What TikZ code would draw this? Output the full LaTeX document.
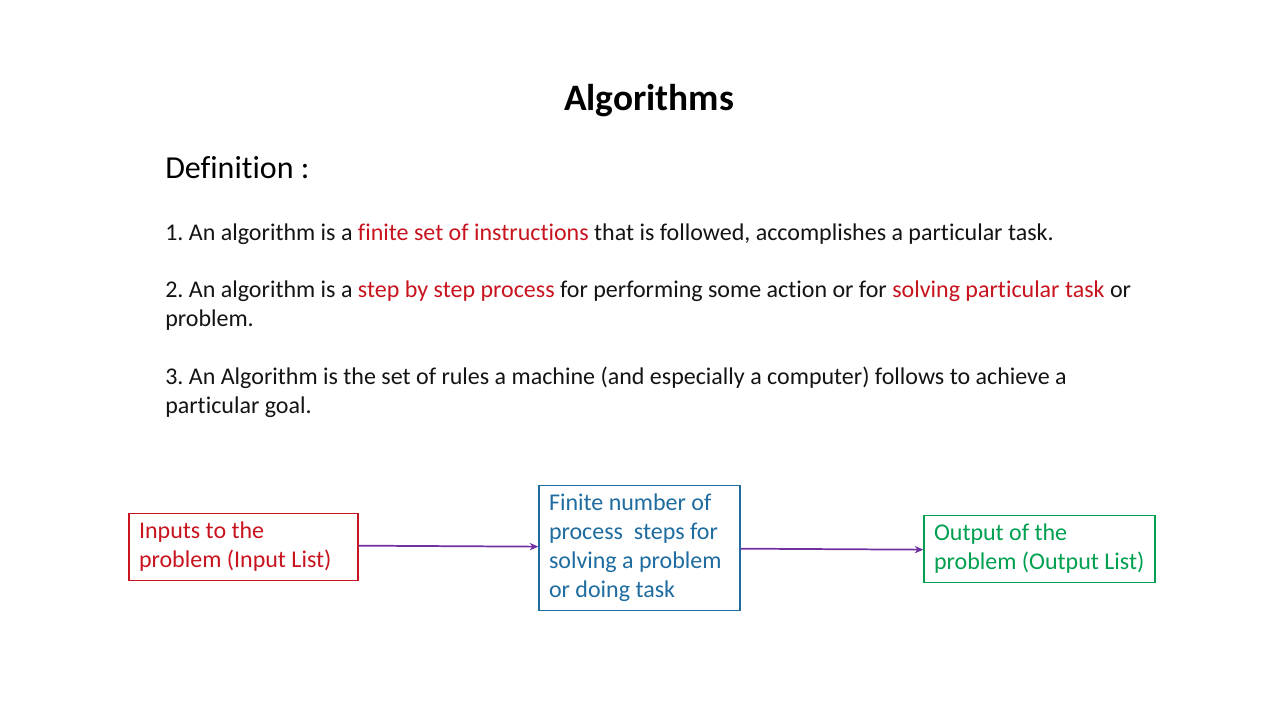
\documentclass[tikz,border=0pt]{standalone}
\usepackage{fontspec}
\setmainfont{Carlito}[Ligatures=NoCommon]
\usetikzlibrary{arrows.meta}
\definecolor{slred}{RGB}{200,20,30}
\definecolor{slblue}{RGB}{30,108,160}
\definecolor{slgreen}{RGB}{0,160,80}
\definecolor{slpurple}{RGB}{112,48,160}
\definecolor{sltext}{RGB}{20,20,20}
\tikzset{
  body/.style={anchor=base west, inner sep=0pt, text=sltext, font=\fontsize{18}{21.75}\selectfont},
  boxnode/.style={draw, line width=1pt, align=flush left, inner xsep=7.5pt, inner ysep=0pt,
     font=\fontsize{18}{21.75}\selectfont},
  flow/.style={slpurple, line width=1.3pt, -{Stealth[length=6.5pt,width=5.5pt]}}
}
\newcommand{\hl}[1]{\textcolor{slred}{#1}}
\begin{document}
\frenchspacing
\begin{tikzpicture}[x=0.75pt,y=-0.75pt]
\fill[white] (0,0) rectangle (1280,720);
\useasboundingbox (0,0) rectangle (1280,720);

\node[anchor=base, inner sep=0pt, text=black, font=\fontsize{28}{32}\selectfont\bfseries] (title) at (649,111) {Algorithms};
\node[anchor=base west, inner sep=0pt, text=black, font=\fontsize{24}{28}\selectfont] (defn) at (165,179) {Definition :};

\node[body] (l1) at (165,240) {1. An algorithm is a \hl{finite set of instructions} that is followed, accomplishes a particular task.};
\node[body] (l2) at (165,297) {2. An algorithm is a \hl{step by step process} for performing some action or for \hl{solving particular task} or};
\node[body] (l2b) at (165,326) {problem.};
\node[body] (l3) at (165,384) {3. An Algorithm is the set of rules a machine (and especially a computer) follows to achieve a};
\node[body] (l3b) at (165,413) {particular goal.};

\node[boxnode, draw=slred, text=slred, minimum width=229*0.75pt, minimum height=67*0.75pt, text width=209*0.75pt] (in) at (243.5,547) {Inputs to the\\problem (Input List)};
\node[boxnode, draw=slblue, text=slblue, minimum width=201*0.75pt, minimum height=125*0.75pt, text width=181*0.75pt] (proc) at (639.5,548) {Finite number of\\process\ \ steps for\\solving a problem\\or doing task};
\node[boxnode, draw=slgreen, text=slgreen, minimum width=231*0.75pt, minimum height=67*0.75pt, text width=211*0.75pt] (out) at (1039.5,549) {Output of the\\problem (Output List)};

\draw[flow] ([yshift=1pt]in.east) -- ([yshift=1pt]proc.west);
\draw[flow] ([yshift=-0.5pt]proc.east) -- ([yshift=-0.5pt]out.west);
\end{tikzpicture}
\end{document}
